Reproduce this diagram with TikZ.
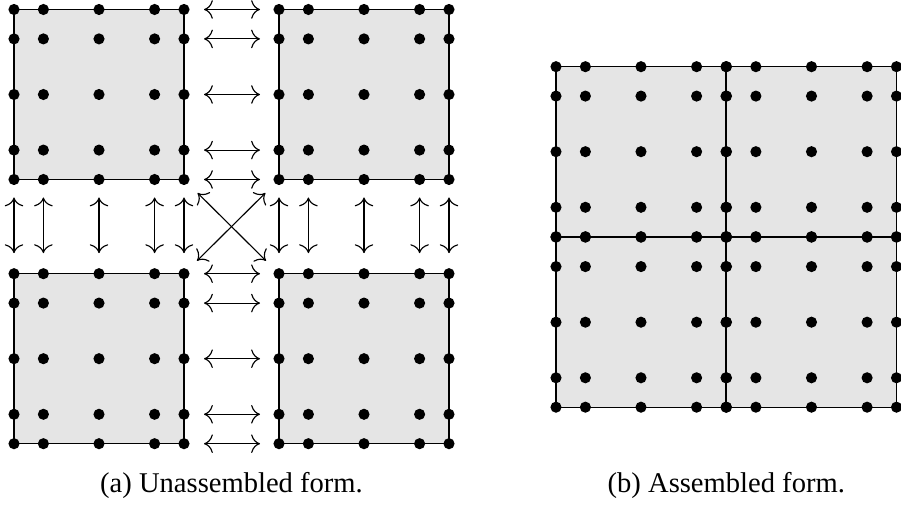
\documentclass[tikz,border=0pt]{standalone}
\usepackage{fontspec}
\setmainfont{Liberation Serif}
\usetikzlibrary{arrows.meta}
\begin{document}
\begin{tikzpicture}[x=0.35pt,y=-0.35pt,
  panel/.style={fill=black!10,draw=black,line width=0.45pt},
  tip/.tip={To[scale=1.25]},
  link/.style={tip-tip,line width=0.4pt},
  caption/.style={anchor=base,inner sep=0pt,font=\fontsize{10}{12}\selectfont}]
\useasboundingbox (0,0) rectangle (901,505);
% element origins (top-left corners); side 170, GLL node offsets
\def\elems{A/14/9.5,B/279/9.5,C/14/273.7,D/279/273.7,P/556/66.7,Q/726.5/66.7,R/556/237.2,S/726.5/237.2}
\def\offs{0/0,1/29.4,2/85,3/140.6,4/170}
% element faces
\foreach \n/\ox/\oy in \elems
  \draw[panel] (\ox,\oy) rectangle ({\ox+170},{\oy+170});
% nodal points
\foreach \n/\ox/\oy in \elems
  \foreach \i/\u in \offs
    \foreach \j/\v in \offs {
      \coordinate (\n-\i-\j) at ({\ox+\u},{\oy+\v});
      \fill (\n-\i-\j) circle[radius=1.95pt];
    }
% horizontal connections
\foreach \j in {0,...,4} {
  \draw[link,shorten <=7pt,shorten >=6.65pt] (A-4-\j) -- (B-0-\j);
  \draw[link,shorten <=7pt,shorten >=6.65pt] (C-4-\j) -- (D-0-\j);
}
% vertical connections
\foreach \i in {0,...,4} {
  \draw[link,shorten <=6.3pt,shorten >=7.2pt] (A-\i-4) -- (C-\i-0);
  \draw[link,shorten <=6.3pt,shorten >=7.2pt] (B-\i-4) -- (D-\i-0);
}
% corner connections
\draw[link,shorten <=6.7pt,shorten >=6.4pt] (A-4-4) -- (D-0-0);
\draw[link,shorten <=6.7pt,shorten >=6.4pt] (B-0-4) -- (C-4-0);
% captions
\node[caption] (capa) at (231.5,493) {(a) Unassembled form.};
\node[caption] (capb) at (726.3,493) {(b) Assembled form.};
\end{tikzpicture}
\end{document}
